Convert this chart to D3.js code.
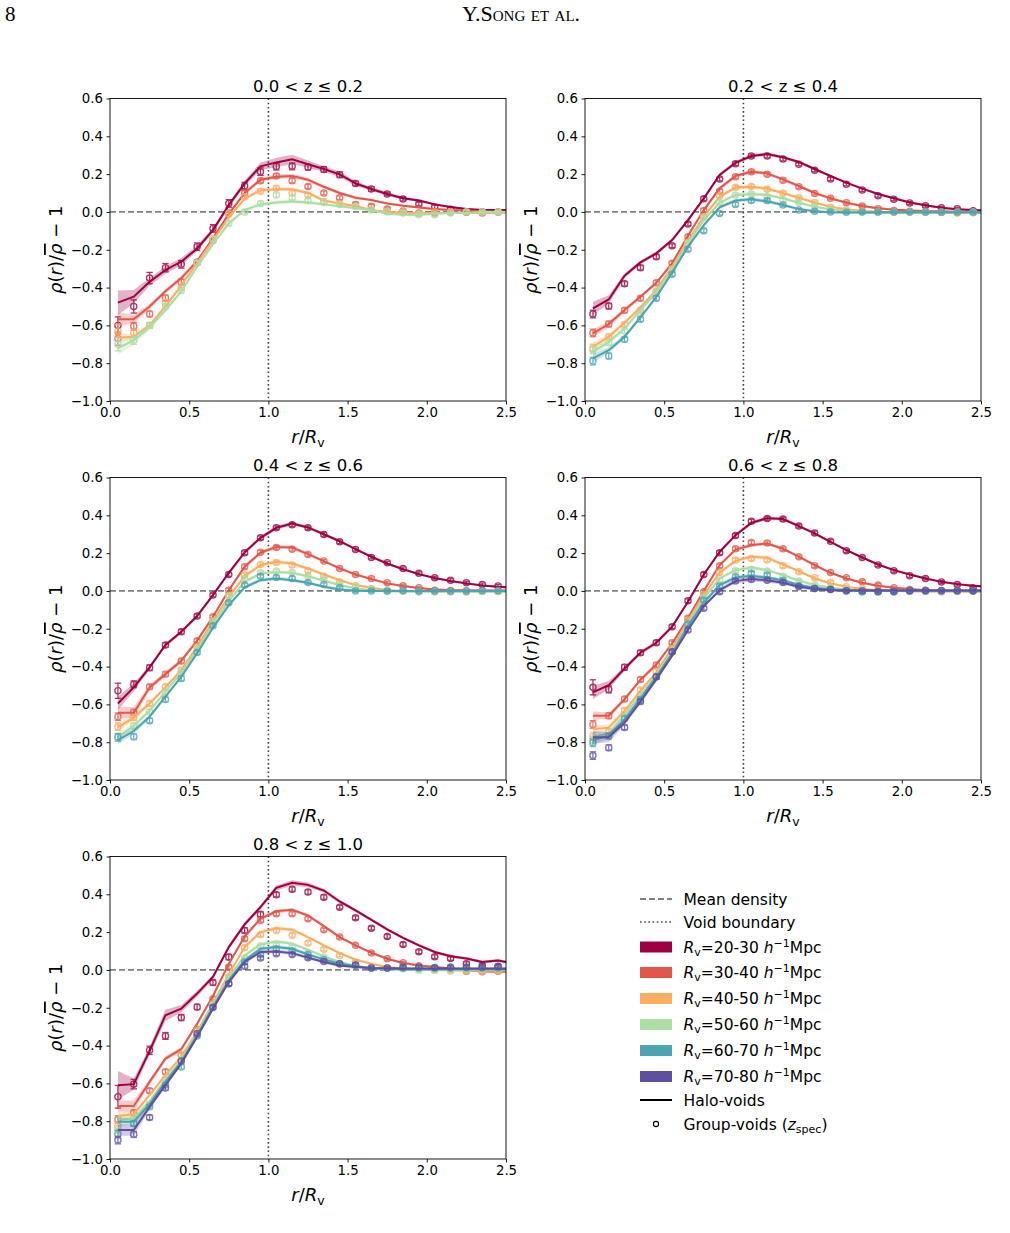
<!DOCTYPE html>
<html><head><meta charset="utf-8">
<script src="https://cdn.jsdelivr.net/npm/d3@7"></script>
<style>
body{margin:0;background:#fff}
svg{display:block}
text{font-family:"DejaVu Sans",sans-serif;fill:#000}
</style>
</head><body>
<svg id="fig" width="1010" height="1233"></svg>
<script>
// ---------------- DATA ----------------
const rBins = [0.05,0.15,0.25,0.35,0.45,0.55,0.65,0.75,0.85,0.95,1.05,1.15,1.25,1.35,1.45,1.55,1.65,1.75,1.85,1.95,2.05,2.15,2.25,2.35,2.45];
const rLine = [0.05,0.15,0.25,0.35,0.45,0.55,0.65,0.75,0.85,0.95,1.05,1.15,1.25,1.35,1.45,1.55,1.65,1.75,1.85,1.95,2.05,2.15,2.25,2.35,2.45,2.55];
const zTitles = ["0.0 < z \u2264 0.2","0.2 < z \u2264 0.4","0.4 < z \u2264 0.6","0.6 < z \u2264 0.8","0.8 < z \u2264 1.0"];
const sizeBins = ["20-30","30-40","40-50","50-60","60-70","70-80"];
const sizeColors = ["#9e0142","#e3574b","#fdad60","#abdda4","#4aa4b1","#5e4fa2"];
const xTicks = [0,0.5,1.0,1.5,2.0,2.5];
const yTicks = [-1.0,-0.8,-0.6,-0.4,-0.2,0.0,0.2,0.4,0.6];

// Panel 1 : 0.0<z<=0.2  (h = halo-void line, g = group-void points)
const h1_20 = [-0.48,-0.448,-0.37,-0.307,-0.263,-0.193,-0.096,0.036,0.151,0.241,0.262,0.278,0.252,0.227,0.199,0.151,0.121,0.095,0.072,0.06,0.04,0.026,0.015,0.01,0.01,0.01];
const g1_20 = [-0.60,-0.50,-0.35,-0.295,-0.277,-0.184,-0.087,0.045,0.137,0.213,0.24,0.241,0.237,0.225,0.197,0.151,0.121,0.095,0.068,0.042,0.026,0.014,0.0,0.0,0.0];
const h1_30 = [-0.567,-0.567,-0.50,-0.42,-0.35,-0.26,-0.14,-0.01,0.10,0.17,0.186,0.19,0.17,0.133,0.10,0.075,0.063,0.045,0.033,0.024,0.015,0.01,0.007,0.003,0.0,0.0];
const g1_30 = [-0.67,-0.605,-0.54,-0.455,-0.37,-0.265,-0.15,-0.005,0.10,0.165,0.19,0.165,0.135,0.10,0.075,0.04,0.03,0.015,0.005,-0.005,-0.005,0.0,0.0,-0.005,0.0];
const h1_40 = [-0.665,-0.66,-0.60,-0.50,-0.39,-0.27,-0.15,-0.03,0.07,0.115,0.12,0.12,0.10,0.06,0.045,0.03,0.01,0.0,-0.005,-0.005,-0.005,-0.005,-0.005,-0.005,-0.005,-0.005];
const g1_40 = [-0.63,-0.64,-0.60,-0.48,-0.40,-0.27,-0.14,-0.01,0.08,0.11,0.125,0.10,0.09,0.055,0.045,0.03,0.015,0.005,0.0,-0.005,0.0,0.0,0.0,0.0,0.0];
const h1_50 = [-0.72,-0.68,-0.61,-0.52,-0.42,-0.29,-0.17,-0.06,0.01,0.04,0.05,0.055,0.05,0.04,0.03,0.02,0.01,-0.01,-0.015,-0.015,-0.01,-0.005,-0.005,0.0,0.0,0.0];
const g1_50 = [-0.70,-0.68,-0.60,-0.50,-0.415,-0.27,-0.145,-0.06,0.0,0.045,0.09,0.075,0.06,0.05,0.04,0.03,0.01,0.0,-0.005,-0.015,-0.015,-0.005,0.0,0.0,0.0];

// Panel 2 : 0.2<z<=0.4
const h2_20 = [-0.51,-0.463,-0.337,-0.267,-0.219,-0.149,-0.043,0.072,0.196,0.26,0.296,0.306,0.289,0.264,0.227,0.19,0.155,0.123,0.095,0.072,0.05,0.035,0.022,0.014,0.01,0.008];
const g2_20 = [-0.54,-0.498,-0.38,-0.295,-0.237,-0.179,-0.064,0.07,0.174,0.255,0.296,0.296,0.28,0.252,0.22,0.174,0.146,0.116,0.086,0.067,0.047,0.033,0.022,0.017,0.006];
const h2_30 = [-0.642,-0.593,-0.519,-0.449,-0.375,-0.272,-0.126,0.01,0.125,0.19,0.213,0.204,0.172,0.137,0.10,0.072,0.049,0.031,0.02,0.012,0.008,0.004,0.003,0.0,0.0,0.0];
const g2_30 = [-0.64,-0.593,-0.52,-0.457,-0.375,-0.272,-0.131,0.008,0.11,0.186,0.213,0.20,0.168,0.133,0.098,0.072,0.049,0.031,0.017,0.008,0.003,0.0,-0.002,-0.003,-0.003];
const h2_40 = [-0.713,-0.66,-0.586,-0.505,-0.413,-0.29,-0.154,-0.025,0.08,0.13,0.133,0.123,0.10,0.075,0.049,0.028,0.013,0.005,0.0,0.0,-0.003,-0.003,-0.003,-0.003,-0.003,-0.003];
const g2_40 = [-0.72,-0.66,-0.595,-0.52,-0.42,-0.30,-0.16,-0.025,0.085,0.13,0.135,0.12,0.10,0.075,0.05,0.025,0.01,0.005,0.0,0.0,0.0,0.0,-0.003,-0.005,-0.003];
const h2_50 = [-0.74,-0.687,-0.616,-0.519,-0.427,-0.302,-0.166,-0.043,0.049,0.09,0.095,0.09,0.072,0.049,0.028,0.013,0.006,-0.003,-0.005,-0.005,-0.005,-0.005,-0.005,-0.005,-0.005,-0.005];
const g2_50 = [-0.73,-0.69,-0.63,-0.535,-0.43,-0.31,-0.165,-0.03,0.05,0.09,0.095,0.08,0.065,0.05,0.03,0.015,0.005,0.0,0.0,0.0,0.0,0.0,0.0,0.0,0.0];
const h2_60 = [-0.775,-0.731,-0.66,-0.558,-0.449,-0.321,-0.184,-0.07,0.024,0.06,0.067,0.056,0.037,0.015,0.003,-0.002,-0.003,-0.003,-0.002,-0.002,-0.002,-0.002,-0.002,-0.002,-0.002,-0.002];
const g2_60 = [-0.789,-0.762,-0.674,-0.568,-0.456,-0.329,-0.198,-0.099,-0.008,0.04,0.06,0.06,0.037,0.01,0.003,0.0,-0.002,0.0,0.0,0.0,0.0,0.0,0.0,0.0,0.0];

// Panel 3 : 0.4<z<=0.6
const h3_20 = [-0.595,-0.51,-0.404,-0.286,-0.216,-0.133,-0.022,0.096,0.204,0.281,0.334,0.357,0.336,0.30,0.263,0.221,0.181,0.145,0.115,0.089,0.068,0.052,0.04,0.029,0.022,0.018];
const g3_20 = [-0.528,-0.494,-0.406,-0.286,-0.216,-0.133,-0.022,0.087,0.202,0.281,0.334,0.35,0.334,0.299,0.26,0.219,0.177,0.149,0.119,0.093,0.07,0.057,0.043,0.034,0.026];
const h3_30 = [-0.644,-0.644,-0.51,-0.44,-0.369,-0.263,-0.137,0.004,0.128,0.202,0.233,0.23,0.195,0.158,0.119,0.087,0.063,0.04,0.026,0.015,0.008,0.004,0.003,0.002,0.002,0.002];
const g3_30 = [-0.665,-0.642,-0.507,-0.44,-0.371,-0.263,-0.137,0.004,0.128,0.205,0.23,0.221,0.193,0.158,0.119,0.087,0.066,0.043,0.027,0.017,0.004,0.002,0.0,0.0,-0.001];
const h3_40 = [-0.722,-0.67,-0.595,-0.51,-0.419,-0.295,-0.158,-0.031,0.078,0.137,0.154,0.145,0.119,0.087,0.057,0.031,0.017,0.004,-0.002,-0.002,-0.003,-0.003,-0.003,-0.003,-0.003,-0.003];
const g3_40 = [-0.718,-0.67,-0.595,-0.507,-0.419,-0.295,-0.158,-0.025,0.084,0.14,0.151,0.137,0.107,0.078,0.048,0.027,0.011,0.004,-0.001,-0.005,-0.005,-0.006,-0.005,-0.003,-0.003];
const h3_50 = [-0.771,-0.713,-0.633,-0.533,-0.433,-0.313,-0.175,-0.052,0.048,0.093,0.10,0.096,0.078,0.054,0.031,0.013,0.004,-0.001,-0.003,-0.003,-0.003,-0.003,-0.003,-0.003,-0.003,-0.003];
const g3_50 = [-0.774,-0.714,-0.639,-0.538,-0.433,-0.309,-0.163,-0.027,0.066,0.096,0.105,0.098,0.078,0.063,0.034,0.022,0.011,0.004,0.0,-0.003,-0.003,-0.003,-0.003,-0.003,-0.003];
const h3_60 = [-0.789,-0.741,-0.665,-0.559,-0.454,-0.33,-0.195,-0.075,0.019,0.057,0.066,0.057,0.043,0.022,0.008,0.001,0.0,0.0,0.0,0.0,0.0,0.0,0.0,0.0,0.0,0.0];
const g3_60 = [-0.774,-0.771,-0.686,-0.574,-0.463,-0.325,-0.184,-0.063,0.031,0.078,0.071,0.066,0.045,0.034,0.017,0.0,0.0,-0.001,0.002,0.0,0.0,0.0,0.0,0.002,0.002];

// Panel 4 : 0.6<z<=0.8
const h4_20 = [-0.537,-0.498,-0.41,-0.327,-0.274,-0.189,-0.057,0.087,0.207,0.295,0.36,0.385,0.38,0.343,0.304,0.26,0.216,0.177,0.14,0.11,0.087,0.066,0.048,0.036,0.027,0.022];
const g4_20 = [-0.51,-0.521,-0.404,-0.327,-0.274,-0.189,-0.052,0.087,0.202,0.293,0.369,0.383,0.38,0.343,0.307,0.263,0.212,0.177,0.137,0.107,0.08,0.066,0.047,0.034,0.017];
const h4_30 = [-0.66,-0.66,-0.572,-0.471,-0.389,-0.278,-0.145,0.001,0.137,0.219,0.242,0.251,0.223,0.181,0.137,0.096,0.066,0.043,0.027,0.017,0.01,0.004,0.001,0.0,-0.001,-0.001];
const g4_30 = [-0.706,-0.66,-0.572,-0.468,-0.392,-0.274,-0.145,-0.004,0.133,0.223,0.256,0.254,0.223,0.181,0.133,0.098,0.07,0.048,0.031,0.017,0.008,0.004,0.0,0.001,0.001];
const h4_40 = [-0.732,-0.723,-0.635,-0.528,-0.431,-0.304,-0.158,-0.022,0.096,0.159,0.181,0.175,0.14,0.105,0.066,0.04,0.022,0.01,0.004,0.0,-0.002,-0.003,-0.003,-0.003,-0.003,-0.003];
const g4_40 = [-0.771,-0.745,-0.633,-0.524,-0.427,-0.304,-0.154,-0.017,0.098,0.163,0.172,0.163,0.133,0.101,0.07,0.045,0.022,0.013,0.004,-0.001,-0.003,-0.003,-0.005,-0.003,-0.001];
const h4_50 = [-0.771,-0.753,-0.656,-0.551,-0.445,-0.322,-0.172,-0.04,0.066,0.11,0.124,0.11,0.084,0.054,0.031,0.017,0.008,0.004,0.001,0.0,0.0,0.0,0.0,0.0,0.0,0.0];
const g4_50 = [-0.789,-0.767,-0.674,-0.568,-0.454,-0.322,-0.172,-0.031,0.057,0.107,0.114,0.105,0.078,0.052,0.031,0.017,0.008,-0.003,-0.005,-0.003,-0.001,-0.001,-0.001,0.0,0.0];
const h4_60 = [-0.789,-0.767,-0.679,-0.568,-0.454,-0.33,-0.186,-0.061,0.031,0.071,0.08,0.071,0.057,0.031,0.017,0.008,0.004,0.002,0.002,0.002,0.002,0.002,0.002,0.002,0.002,0.002];
const g4_60 = [-0.803,-0.767,-0.674,-0.574,-0.454,-0.322,-0.175,-0.049,0.026,0.075,0.093,0.084,0.057,0.027,0.013,0.008,0.0,-0.005,-0.005,-0.005,-0.001,0.0,0.0,0.0,0.0];
const h4_70 = [-0.774,-0.774,-0.696,-0.585,-0.468,-0.343,-0.207,-0.08,0.004,0.052,0.063,0.057,0.043,0.022,0.01,0.004,0.002,0.002,0.002,0.002,0.002,0.002,0.002,0.002,0.002,0.002];
const g4_70 = [-0.871,-0.829,-0.722,-0.585,-0.454,-0.322,-0.207,-0.092,-0.004,0.052,0.061,0.057,0.045,0.022,0.013,0.008,0.001,0.001,-0.001,-0.001,0.002,0.002,0.002,0.002,0.001];

// Panel 5 : 0.8<z<=1.0
const h5_20 = [-0.61,-0.604,-0.428,-0.24,-0.205,-0.125,-0.037,0.121,0.241,0.332,0.434,0.461,0.45,0.42,0.362,0.315,0.265,0.214,0.17,0.13,0.095,0.072,0.06,0.042,0.05,0.033];
const g5_20 = [-0.671,-0.604,-0.425,-0.349,-0.252,-0.196,-0.067,0.068,0.209,0.294,0.398,0.427,0.412,0.385,0.332,0.276,0.221,0.177,0.135,0.096,0.07,0.061,0.033,0.024,0.019];
const h5_30 = [-0.72,-0.72,-0.592,-0.469,-0.419,-0.284,-0.138,0.033,0.177,0.271,0.31,0.318,0.288,0.232,0.174,0.13,0.091,0.059,0.037,0.024,0.015,0.007,-0.002,-0.007,-0.009,-0.009];
const g5_30 = [-0.791,-0.756,-0.639,-0.539,-0.451,-0.314,-0.152,0.015,0.165,0.262,0.297,0.297,0.271,0.213,0.174,0.13,0.089,0.059,0.038,0.022,0.007,0.007,-0.007,-0.009,-0.007];
const h5_40 = [-0.773,-0.763,-0.662,-0.557,-0.46,-0.328,-0.178,-0.023,0.121,0.20,0.221,0.213,0.174,0.13,0.089,0.054,0.033,0.015,0.007,0.002,0.0,-0.002,-0.003,-0.003,-0.003,-0.003];
const g5_40 = [-0.826,-0.786,-0.71,-0.58,-0.448,-0.319,-0.178,-0.037,0.118,0.186,0.209,0.183,0.142,0.109,0.077,0.042,0.015,0.01,0.007,0.007,-0.002,-0.005,-0.007,-0.007,-0.005];
const h5_50 = [-0.791,-0.786,-0.694,-0.58,-0.477,-0.337,-0.187,-0.041,0.077,0.135,0.151,0.139,0.107,0.072,0.042,0.021,0.01,0.003,0.001,0.0,0.0,0.0,0.0,0.0,0.0,0.0];
const g5_50 = [-0.844,-0.812,-0.715,-0.597,-0.477,-0.34,-0.192,-0.046,0.063,0.126,0.13,0.121,0.089,0.068,0.033,0.024,0.01,0.007,0.007,-0.002,-0.002,0.003,0.001,0.001,0.005];
const h5_60 = [-0.803,-0.803,-0.71,-0.592,-0.486,-0.345,-0.196,-0.055,0.051,0.112,0.121,0.112,0.082,0.056,0.033,0.019,0.008,0.007,0.004,0.003,0.003,0.003,0.003,0.003,0.003,0.003];
const g5_60 = [-0.868,-0.812,-0.724,-0.609,-0.513,-0.349,-0.196,-0.073,0.042,0.082,0.112,0.10,0.081,0.054,0.033,0.024,0.01,0.01,0.01,0.01,0.01,0.01,0.01,0.01,0.01];
const h5_70 = [-0.847,-0.847,-0.724,-0.609,-0.495,-0.354,-0.205,-0.064,0.042,0.095,0.098,0.089,0.065,0.042,0.024,0.015,0.01,0.009,0.008,0.008,0.008,0.008,0.008,0.008,0.008,0.008];
const g5_70 = [-0.90,-0.87,-0.78,-0.624,-0.481,-0.337,-0.199,-0.073,0.019,0.063,0.086,0.082,0.065,0.045,0.033,0.028,0.01,0.01,0.015,0.015,0.013,0.015,0.015,0.015,0.017];

// error bars on group-void points (half-width)
const errDefault = [0.02,0.015,0.012,0.012,0.012,0.01,0.01,0.01,0.01,0.01,0.01,0.01,0.01,0.008,0.008,0.008,0.008,0.008,0.008,0.008,0.008,0.008,0.008,0.008,0.008];
const errP1 = [0.035,0.02,0.015,0.015,0.015,0.012,0.012,0.012,0.012,0.012,0.012,0.012,0.01,0.01,0.01,0.01,0.01,0.008,0.008,0.008,0.008,0.008,0.008,0.008,0.008];
const e1_20 = [0.045,0.035,0.03,0.022,0.02,0.02,0.02,0.02,0.02,0.02,0.018,0.018,0.015,0.015,0.015,0.012,0.012,0.01,0.01,0.01,0.01,0.01,0.008,0.008,0.008];
const e4_20 = [0.04,0.018,0.015,0.012,0.012,0.01,0.01,0.01,0.01,0.01,0.01,0.01,0.01,0.01,0.01,0.008,0.008,0.008,0.008,0.008,0.008,0.008,0.008,0.008,0.008];
const e5_20 = [0.06,0.025,0.022,0.018,0.016,0.014,0.014,0.014,0.014,0.014,0.012,0.012,0.012,0.012,0.01,0.01,0.01,0.01,0.01,0.01,0.01,0.01,0.01,0.01,0.01];
// shaded band half-width on halo-void lines
const bandDefault = [0.022,0.016,0.012,0.01,0.01,0.01,0.01,0.01,0.01,0.01,0.01,0.01,0.008,0.008,0.008,0.006,0.006,0.006,0.006,0.006,0.006,0.006,0.006,0.006,0.006,0.006];
const b1_20 = [0.065,0.035,0.02,0.02,0.02,0.015,0.012,0.012,0.015,0.02,0.025,0.025,0.02,0.015,0.015,0.012,0.01,0.01,0.008,0.008,0.006,0.006,0.006,0.006,0.006,0.006];
const b1_30 = [0.035,0.025,0.015,0.012,0.012,0.01,0.01,0.01,0.01,0.012,0.012,0.012,0.01,0.01,0.008,0.008,0.006,0.006,0.006,0.006,0.006,0.006,0.006,0.006,0.006,0.006];
const b4_20 = [0.035,0.022,0.012,0.01,0.01,0.01,0.01,0.01,0.01,0.01,0.01,0.01,0.008,0.008,0.008,0.006,0.006,0.006,0.006,0.006,0.006,0.006,0.006,0.006,0.006,0.006];
const b5_20 = [0.075,0.03,0.02,0.03,0.02,0.015,0.012,0.012,0.012,0.012,0.014,0.014,0.012,0.01,0.01,0.008,0.008,0.008,0.008,0.008,0.008,0.008,0.008,0.008,0.008,0.008];
const b5_30 = [0.03,0.03,0.015,0.012,0.012,0.01,0.01,0.01,0.01,0.01,0.01,0.01,0.008,0.008,0.008,0.006,0.006,0.006,0.006,0.006,0.006,0.006,0.006,0.006,0.006,0.006];

// ---------------- LAYOUT / DRAW ----------------
const svg = d3.select("#fig");
const W = 396, H = 302.5;
const panels = [
  {x:110, y:98.5, title:zTitles[0], series:[[0,h1_20,g1_20,e1_20,b1_20],[1,h1_30,g1_30,errP1,b1_30],[2,h1_40,g1_40,errP1,bandDefault],[3,h1_50,g1_50,errP1,b1_30]]},
  {x:585, y:98.5, title:zTitles[1], series:[[0,h2_20,g2_20,errDefault,b4_20],[1,h2_30,g2_30,errDefault,bandDefault],[2,h2_40,g2_40,errDefault,bandDefault],[3,h2_50,g2_50,errDefault,bandDefault],[4,h2_60,g2_60,errDefault,bandDefault]]},
  {x:110, y:477.5, title:zTitles[2], series:[[0,h3_20,g3_20,e4_20,b4_20],[1,h3_30,g3_30,errDefault,b5_30],[2,h3_40,g3_40,errDefault,bandDefault],[3,h3_50,g3_50,errDefault,bandDefault],[4,h3_60,g3_60,errDefault,bandDefault]]},
  {x:585, y:477.5, title:zTitles[3], series:[[0,h4_20,g4_20,e4_20,b4_20],[1,h4_30,g4_30,errDefault,bandDefault],[2,h4_40,g4_40,errDefault,bandDefault],[3,h4_50,g4_50,errDefault,bandDefault],[4,h4_60,g4_60,errDefault,bandDefault],[5,h4_70,g4_70,errDefault,b1_30]]},
  {x:110, y:856.5, title:zTitles[4], series:[[0,h5_20,g5_20,e5_20,b5_20],[1,h5_30,g5_30,errDefault,b5_30],[2,h5_40,g5_40,errDefault,bandDefault],[3,h5_50,g5_50,errDefault,bandDefault],[4,h5_60,g5_60,errDefault,bandDefault],[5,h5_70,g5_70,errDefault,b5_30]]}
];

// header
svg.append("text").attr("x",5).attr("y",21).style("font-family","'Liberation Serif',serif").style("font-size","21px").text("8");
svg.append("text").attr("x",521).attr("y",21).attr("text-anchor","middle")
  .style("font-family","'Liberation Serif',serif").style("font-size","22px").style("font-variant","small-caps").text("Y.Song et al.");

const defs = svg.append("defs");

panels.forEach((p, pi) => {
  const g = svg.append("g").attr("transform", `translate(${p.x},${p.y})`);
  const x = d3.scaleLinear().domain([0,2.5]).range([0,W]);
  const y = d3.scaleLinear().domain([-1,0.6]).range([H,0]);
  defs.append("clipPath").attr("id","clip"+pi).append("rect").attr("width",W).attr("height",H);
  const plot = g.append("g").attr("clip-path",`url(#clip${pi})`);

  // reference lines
  plot.append("line").attr("x1",0).attr("x2",W).attr("y1",y(0)).attr("y2",y(0))
    .attr("stroke","#808080").attr("stroke-width",1.8).attr("stroke-dasharray","6,3");
  plot.append("line").attr("x1",x(1)).attr("x2",x(1)).attr("y1",0).attr("y2",H)
    .attr("stroke","#444").attr("stroke-width",1.6).attr("stroke-dasharray","1.6,2.6");

  p.series.forEach(([ci, halo, grp, err, band]) => {
    const col = sizeColors[ci];
    const area = d3.area().x((d,i)=>x(rLine[i])).y0((d,i)=>y(d - band[i])).y1((d,i)=>y(d + band[i]));
    plot.append("path").datum(halo).attr("d", area).attr("fill", col).attr("fill-opacity", 0.3).attr("stroke","none");
    const line = d3.line().x((d,i)=>x(rLine[i])).y(d=>y(d));
    plot.append("path").datum(halo).attr("d", line).attr("fill","none").attr("stroke",col).attr("stroke-width",2);
    const pts = plot.append("g").attr("opacity",0.8);
    grp.forEach((v,i) => {
      const cx = x(rBins[i]), e = err[i];
      pts.append("line").attr("x1",cx).attr("x2",cx).attr("y1",y(v-e)).attr("y2",y(v+e)).attr("stroke",col).attr("stroke-width",1.3);
      pts.append("line").attr("x1",cx-3.2).attr("x2",cx+3.2).attr("y1",y(v-e)).attr("y2",y(v-e)).attr("stroke",col).attr("stroke-width",1.3);
      pts.append("line").attr("x1",cx-3.2).attr("x2",cx+3.2).attr("y1",y(v+e)).attr("y2",y(v+e)).attr("stroke",col).attr("stroke-width",1.3);
      pts.append("circle").attr("cx",cx).attr("cy",y(v)).attr("r",3.1).attr("fill","none").attr("stroke",col).attr("stroke-width",1.3);
    });
  });

  // axes
  const ax = g.append("g").attr("transform",`translate(0,${H})`)
    .call(d3.axisBottom(x).tickValues(xTicks).tickFormat(d3.format(".1f")).tickSizeInner(3.5).tickSizeOuter(0).tickPadding(3.5));
  const ay = g.append("g")
    .call(d3.axisLeft(y).tickValues(yTicks).tickFormat(d3.format(".1f")).tickSizeInner(3.5).tickSizeOuter(0).tickPadding(3.5));
  [ax, ay].forEach(a => {
    a.select(".domain").remove();
    a.selectAll(".tick line").attr("stroke","#000").attr("stroke-width",0.9);
    a.selectAll(".tick text").style("font-family","'DejaVu Sans',sans-serif").style("font-size","13.3px").attr("fill","#000");
  });
  g.append("rect").attr("width",W).attr("height",H).attr("fill","none").attr("stroke","#000").attr("stroke-width",0.9);

  // title
  g.append("text").attr("x",W/2).attr("y",-7).attr("text-anchor","middle").style("font-size","16.5px").text(p.title);

  // x label  r/R_v
  const xl = g.append("text").attr("x",W/2).attr("y",H+42).attr("text-anchor","middle").style("font-size","18px");
  xl.append("tspan").style("font-style","italic").text("r");
  xl.append("tspan").text("/");
  xl.append("tspan").style("font-style","italic").text("R");
  xl.append("tspan").attr("dy",4).style("font-size","12.5px").text("v");

  // y label  rho(r)/rho-bar - 1
  const yl = g.append("text").attr("transform",`translate(-48,${H/2}) rotate(-90)`).attr("text-anchor","middle").style("font-size","18px");
  yl.append("tspan").style("font-style","italic").text("\u03c1");
  yl.append("tspan").text("(");
  yl.append("tspan").style("font-style","italic").text("r");
  yl.append("tspan").text(")/");
  yl.append("tspan").style("font-style","italic").style("text-decoration","overline").text("\u03c1");
  yl.append("tspan").text(" \u2212 1");
});

// legend
const lg = svg.append("g").attr("transform","translate(640,0)");
const legendRows = [899, 922, 947, 972.5, 998.5, 1024.5, 1050.5, 1076.5, 1100, 1124];
const ltx = 43.5;
const lfs = "15.5px";
lg.append("line").attr("x1",0).attr("x2",32).attr("y1",legendRows[0]).attr("y2",legendRows[0]).attr("stroke","#808080").attr("stroke-width",1.8).attr("stroke-dasharray","6,3");
lg.append("text").attr("x",ltx).attr("y",legendRows[0]+5.5).style("font-size",lfs).text("Mean density");
lg.append("line").attr("x1",0).attr("x2",32).attr("y1",legendRows[1]).attr("y2",legendRows[1]).attr("stroke","#444").attr("stroke-width",1.6).attr("stroke-dasharray","1.6,2.6");
lg.append("text").attr("x",ltx).attr("y",legendRows[1]+5.5).style("font-size",lfs).text("Void boundary");
sizeBins.forEach((s,i) => {
  const yy = legendRows[2+i];
  lg.append("rect").attr("x",0).attr("y",yy-5.5).attr("width",32).attr("height",11).attr("fill",sizeColors[i]);
  const t = lg.append("text").attr("x",ltx).attr("y",yy+5.5).style("font-size",lfs);
  t.append("tspan").style("font-style","italic").text("R");
  t.append("tspan").attr("dy",3).style("font-size","11px").text("v");
  t.append("tspan").attr("dy",-3).text("=" + s + " ");
  t.append("tspan").style("font-style","italic").text("h");
  t.append("tspan").attr("dy",-6).style("font-size","11px").text("\u22121");
  t.append("tspan").attr("dy",6).text("Mpc");
});
lg.append("line").attr("x1",0).attr("x2",32).attr("y1",legendRows[8]).attr("y2",legendRows[8]).attr("stroke","#000").attr("stroke-width",2);
lg.append("text").attr("x",ltx).attr("y",legendRows[8]+5.5).style("font-size",lfs).text("Halo-voids");
lg.append("circle").attr("cx",16).attr("cy",legendRows[9]).attr("r",2.6).attr("fill","none").attr("stroke","#000").attr("stroke-width",1.1);
const gt = lg.append("text").attr("x",ltx).attr("y",legendRows[9]+5.5).style("font-size",lfs);
gt.append("tspan").text("Group-voids (");
gt.append("tspan").style("font-style","italic").text("z");
gt.append("tspan").attr("dy",3).style("font-size","11px").text("spec");
gt.append("tspan").attr("dy",-3).text(")");
</script>
</body></html>
